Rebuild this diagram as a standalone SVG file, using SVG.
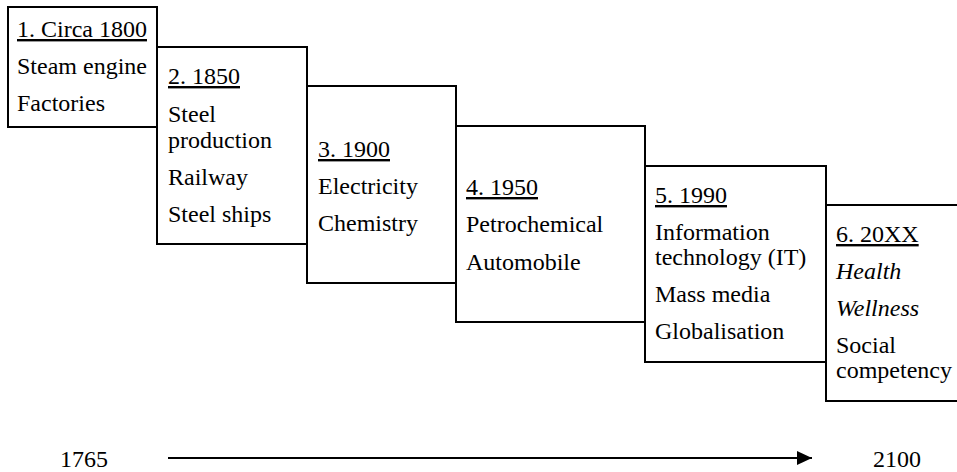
<svg xmlns="http://www.w3.org/2000/svg" width="957" height="472" viewBox="0 0 957 472">
<style>
.box{fill:none;stroke:#000;stroke-width:2}
text{font-family:"Liberation Serif","Times New Roman",serif;font-size:24px;fill:#000}
.t{text-decoration:underline}
.i{font-style:italic}
</style>
<defs>
<marker id="ah" markerWidth="15" markerHeight="14" refX="15" refY="7" orient="auto" markerUnits="userSpaceOnUse">
<path d="M0,0 L15,7 L0,14 Z" fill="#000"/>
</marker>
</defs>
<rect width="957" height="472" fill="#fff"/>
<g id="node1">
<rect class="box" x="8" y="7" width="149" height="120"/>
<text x="17" y="37" class="t">1. Circa 1800</text>
<text x="17" y="74">Steam engine</text>
<text x="17" y="111">Factories</text>
</g>
<g id="node2">
<rect class="box" x="157" y="47" width="150" height="197"/>
<text x="168" y="84" class="t">2. 1850</text>
<text x="168" y="122">Steel</text>
<text x="168" y="148">production</text>
<text x="168" y="185">Railway</text>
<text x="168" y="222">Steel ships</text>
</g>
<g id="node3">
<rect class="box" x="307" y="86" width="149" height="197"/>
<text x="318" y="157" class="t">3. 1900</text>
<text x="318" y="194">Electricity</text>
<text x="318" y="231">Chemistry</text>
</g>
<g id="node4">
<rect class="box" x="456" y="126" width="189" height="196"/>
<text x="466" y="195" class="t">4. 1950</text>
<text x="466" y="232">Petrochemical</text>
<text x="466" y="270">Automobile</text>
</g>
<g id="node5">
<rect class="box" x="645" y="166" width="181" height="196"/>
<text x="655" y="203" class="t">5. 1990</text>
<text x="655" y="240">Information</text>
<text x="655" y="265">technology (IT)</text>
<text x="655" y="302">Mass media</text>
<text x="655" y="339">Globalisation</text>
</g>
<g id="node6">
<rect class="box" x="826" y="205" width="150" height="196"/>
<text x="836" y="242" class="t">6. 20XX</text>
<text x="836" y="279" class="i">Health</text>
<text x="836" y="316" class="i">Wellness</text>
<text x="836" y="353">Social</text>
<text x="836" y="378">competency</text>
</g>
<g id="connectors">
<line x1="168" y1="458" x2="812" y2="458" stroke="#000" stroke-width="2" marker-end="url(#ah)"/>
</g>
<g id="labels">
<text x="60" y="467">1765</text>
<text x="873" y="467">2100</text>
</g>
</svg>
